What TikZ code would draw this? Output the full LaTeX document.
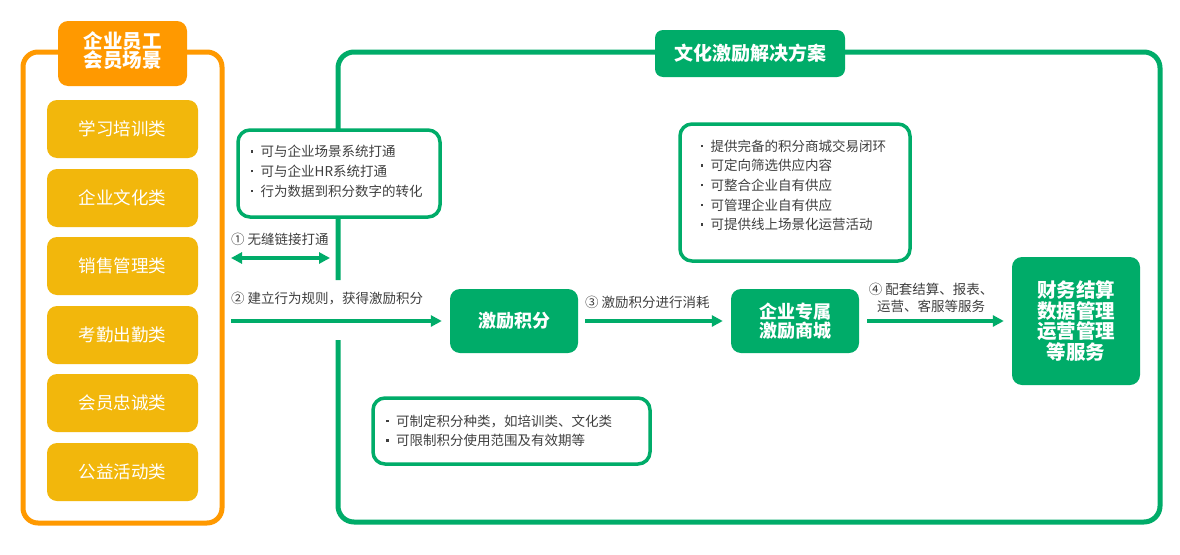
\documentclass[tikz,border=0pt]{standalone}
\usepackage{fontspec}
\setmainfont{Noto Sans CJK SC}
\usetikzlibrary{arrows.meta}
\definecolor{gr}{RGB}{0,172,105}
\definecolor{orng}{RGB}{255,153,0}
\definecolor{ylw}{RGB}{242,183,12}
\definecolor{txt}{RGB}{64,64,64}
\newcommand\bdot{\rule[4pt]{2.5pt}{2.5pt}}
\begin{document}
\begin{tikzpicture}[x=1pt,y=-1pt,
  yb/.style={fill=ylw, rounded corners=10pt, minimum width=151pt, minimum height=58pt, text=white, font=\fontsize{17.5}{20}\selectfont, inner sep=0pt},
  gb/.style={fill=gr, rounded corners=10pt, text=white, font=\fontsize{18}{19}\selectfont\bfseries, align=center, inner sep=0pt},
  wb/.style={draw=gr, line width=3.5pt, fill=white, rounded corners=12pt, inner sep=0pt},
  bl/.style={anchor=west, text=txt, font=\fontsize{13.5}{19.6}\selectfont, inner sep=0pt},
  lbl/.style={text=txt, font=\fontsize{13.5}{17.5}\selectfont, inner sep=0pt},
  arr/.style={draw=gr, line width=3.5pt, -{Triangle[length=11pt,width=11pt]}},
]
\useasboundingbox (0,0) rectangle (1180,554);
\fill[white] (0,0) rectangle (1180,554);

% left orange frame
\draw[orng, line width=5pt, rounded corners=15pt] (23,52) rectangle (222,523);
\node[fill=orng, rounded corners=10pt, minimum width=129pt, minimum height=65pt, inner sep=0pt] (hdr) at (122.5,53.5) {};
\node[text=white, font=\fontsize{19.5}{19}\selectfont\bfseries, align=center, inner sep=0pt] (hdrt) at (122.5,51) {企业员工\\会员场景};

\node[yb] (y1) at (122.5,129) {学习培训类};
\node[yb] (y2) at (122.5,198) {企业文化类};
\node[yb] (y3) at (122.5,266) {销售管理类};
\node[yb] (y4) at (122.5,335) {考勤出勤类};
\node[yb] (y5) at (122.5,403) {会员忠诚类};
\node[yb] (y6) at (122.5,472) {公益活动类};

% green frame
\draw[gr, line width=5pt, rounded corners=16pt] (338,280) -- (338,52) -- (1160,52) -- (1160,522) -- (338,522) -- (338,340);
\node[gb, minimum width=190pt, minimum height=47pt, rounded corners=8pt, font=\fontsize{19}{19}\selectfont\bfseries] (title) at (750,53.5) {文化激励解决方案};

% box A
\node[wb, minimum width=202pt, minimum height=87pt] (boxA) at (339,173.5) {};
\node[bl] (tA) at (250.5,172.5) {\begin{tabular}{@{}l@{\hspace{7.5pt}}l@{}}\bdot&可与企业场景系统打通\\\bdot&可与企业HR系统打通\\\bdot&行为数据到积分数字的转化\end{tabular}};

% box B
\node[wb, minimum width=230pt, minimum height=137pt] (boxB) at (795,192.5) {};
\node[bl] (tB) at (700.5,186.5) {\begin{tabular}{@{}l@{\hspace{7.5pt}}l@{}}\bdot&提供完备的积分商城交易闭环\\\bdot&可定向筛选供应内容\\\bdot&可整合企业自有供应\\\bdot&可管理企业自有供应\\\bdot&可提供线上场景化运营活动\end{tabular}};

% box C
\node[wb, minimum width=277pt, minimum height=66pt] (boxC) at (511.5,431) {};
\node[bl] (tC) at (386,432) {\begin{tabular}{@{}l@{\hspace{7.5pt}}l@{}}\bdot&可制定积分种类，如培训类、文化类\\\bdot&可限制积分使用范围及有效期等\end{tabular}};

% green boxes
\node[gb, minimum width=128pt, minimum height=64pt] (jf) at (514,321) {激励积分};
\node[gb, minimum width=128pt, minimum height=64pt] (sc) at (795,321) {企业专属\\激励商城};
\node[gb, minimum width=128pt, minimum height=128pt, font=\fontsize{19.5}{20.5}\selectfont\bfseries] (cw) at (1076,321) {财务结算\\数据管理\\运营管理\\等服务};

% labels
\node[lbl, anchor=west] (l1) at (231,239) {① 无缝链接打通};
\node[lbl, anchor=west] (l2) at (231,299) {② 建立行为规则，获得激励积分};
\node[lbl, anchor=west] (l3) at (585,302) {③ 激励积分进行消耗};
\node[lbl, align=center] (l4) at (931,298) {④ 配套结算、报表、\\运营、客服等服务};

% arrows
\coordinate (a1s) at (231,258);
\coordinate (a1e) at (330,258);
\draw[arr, {Triangle[length=11pt,width=11pt]}-{Triangle[length=11pt,width=11pt]}] (a1s) -- (a1e);
\coordinate (a2s) at (231,321);
\draw[arr, shorten >=8pt] (a2s) -- (jf.west);
\draw[arr, shorten <=7pt, shorten >=8pt] (jf.east) -- (sc.west);
\draw[arr, shorten <=8pt, shorten >=8pt] (sc.east) -- (cw.west);
\end{tikzpicture}
\end{document}
